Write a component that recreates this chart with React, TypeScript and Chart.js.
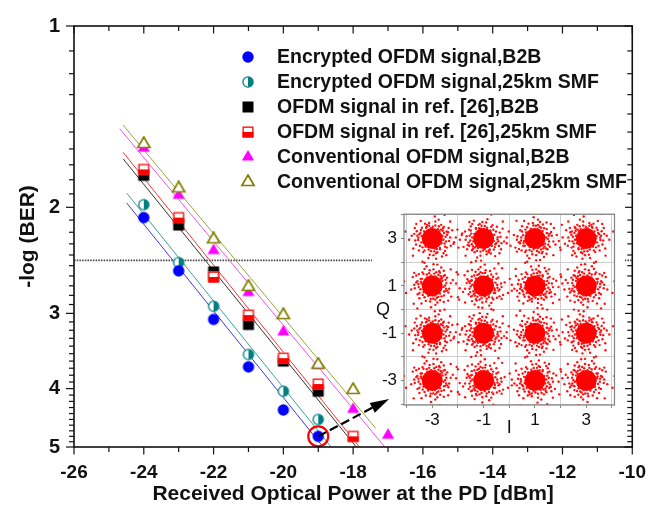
import React, { useEffect, useRef } from 'react';
import { Chart, registerables } from 'chart.js';
Chart.register(...registerables);

// ---------- axis ticks ----------
const X_TICKS = [-26, -24, -22, -20, -18, -16, -14, -12, -10];
const Y_TICKS = [1, 2, 3, 4, 5];
const X_MIN = -26;
const X_MAX = -10;
const Y_MIN = 1;
const Y_MAX = 5;
const FEC_LEVEL = 2.45;

const SERIES_NAMES = [
  'Encrypted OFDM signal,B2B',
  'Encrypted OFDM signal,25km SMF',
  'OFDM signal in ref. [26],B2B',
  'OFDM signal in ref. [26],25km SMF',
  'Conventional OFDM signal,B2B',
  'Conventional OFDM signal,25km SMF',
];

// ---------- measured points ----------
const BLUE_X = [-24, -23, -22, -21, -20, -19];
const BLUE_Y = [2.08, 2.55, 3.07, 3.68, 4.34, 4.8];
const TEAL_X = [-24, -23, -22, -21, -20, -19];
const TEAL_Y = [1.98, 2.47, 2.92, 3.51, 4.04, 4.5];
const BLACK_X = [-24, -23, -22, -21, -20, -19];
const BLACK_Y = [1.77, 2.14, 2.56, 3.13, 3.6, 4.04];
const RED_X = [-24, -23, -22, -21, -20, -19, -18];
const RED_Y = [1.73, 2.08, 2.61, 3.02, 3.56, 3.93, 4.8];
const MAGENTA_X = [-24, -23, -22, -21, -20, -19, -18, -17];
const MAGENTA_Y = [1.595, 1.91, 2.36, 2.77, 3.22, 3.66, 4.33, 4.78];
const OLIVE_X = [-24, -23, -22, -21, -20, -19, -18];
const OLIVE_Y = [1.57, 1.86, 2.26, 2.71, 3.02, 3.65, 4.02];

// ---------- fitted lines (two end points each) ----------
const BLUE_FIT_X = [-24.49, -18.86];
const BLUE_FIT_Y = [1.967, 5];
const TEAL_FIT_X = [-24.49, -18.63];
const TEAL_FIT_Y = [1.894, 5];
const BLACK_FIT_X = [-24.59, -17.91];
const BLACK_FIT_Y = [1.662, 5];
const RED_FIT_X = [-24.59, -17.82];
const RED_FIT_Y = [1.621, 5];
const MAGENTA_FIT_X = [-24.69, -17.09];
const MAGENTA_FIT_Y = [1.481, 5];
const OLIVE_FIT_X = [-24.59, -17.35];
const OLIVE_FIT_Y = [1.461, 4.657];

// ---------- annotation (data coords) ----------
const MARK_POINT = { x: -19, y: 4.8 };
const ARROW_TIP = { x: -16.97, y: 4.16 };

// ---------- inset constellation ----------
const CONST_I = [-3, -1, 1, 3];
const CONST_Q = [3, 1, -1, -3];
const INSET_TICKS = [-4, -3, -2, -1, 0, 1, 2, 3, 4];
const NOISE_OFFSETS = [
  [0.52, 0.08], [0.48, -0.21], [0.41, 0.33], [0.3, -0.45], [0.12, 0.55], [-0.05, -0.53],
  [-0.22, 0.49], [-0.38, -0.37], [-0.5, 0.18], [-0.55, -0.06], [-0.44, 0.36], [0.2, -0.58],
  [0.62, 0.27], [0.66, -0.1], [0.57, -0.38], [0.35, 0.58], [-0.12, 0.66], [-0.35, -0.57],
  [-0.63, -0.25], [-0.6, 0.31], [0.05, -0.7], [0.45, 0.49], [-0.28, 0.63], [0.7, 0.05],
  [0.78, 0.35], [0.83, -0.22], [-0.8, 0.12], [-0.74, -0.42], [0.25, 0.8], [-0.45, 0.74],
  [0.38, -0.76], [-0.15, -0.82], [0.92, 0.05], [-0.9, -0.05], [0.1, 0.93], [0.55, -0.7],
  [-0.62, 0.62], [1.02, -0.38], [-1.05, 0.3], [0.48, 1.0], [-0.3, -1.02], [0.7, 0.72],
  [-0.75, -0.72], [1.15, 0.15], [0.2, -1.1], [-0.58, 1.05], [0.5, -0.52], [-0.52, -0.5],
  [0.58, 0.16], [-0.58, 0.12], [0.15, -0.62], [-0.2, 0.58], [0.44, -0.62], [-0.68, 0.45],
  [0.4, 0.12], [0.36, -0.2], [0.28, 0.32], [0.1, -0.42], [-0.05, 0.44], [-0.26, -0.34],
  [-0.4, 0.1], [-0.42, -0.16], [0.22, 0.4], [-0.32, 0.3], [0.44, -0.05], [0.18, -0.44],
  [-0.14, -0.46], [-0.46, 0.24], [0.34, 0.38], [0.46, 0.24], [-0.24, 0.46], [0.02, 0.5],
  [-0.48, -0.3], [0.3, -0.4], [0.54, -0.12], [-0.54, 0.04], [0.08, -0.54], [0.42, 0.44],
  [-0.4, 0.46], [0.26, 0.52], [-0.12, 0.54], [0.56, 0.3], [-0.3, -0.5], [0.5, -0.34],
  [0.64, 0.45], [-0.66, -0.08], [0.12, 0.72], [-0.1, -0.68], [0.72, -0.3], [-0.7, 0.2],
];

const FONT = "'Liberation Sans', Arial, sans-serif";

function makeMarker(kind: string): HTMLCanvasElement {
  const c = document.createElement('canvas');
  c.width = 16;
  c.height = 16;
  const g = c.getContext('2d')!;
  const cx = 8, cy = 8;
  if (kind === 'circle') {
    g.fillStyle = '#0000ff';
    g.beginPath(); g.arc(cx, cy, 5.7, 0, Math.PI * 2); g.fill();
  } else if (kind === 'halfCircle') {
    g.fillStyle = '#ffffff';
    g.beginPath(); g.arc(cx, cy, 5.1, 0, Math.PI * 2); g.fill();
    g.fillStyle = '#007f7f';
    g.beginPath(); g.moveTo(cx, cy); g.arc(cx, cy, 5.1, -Math.PI / 2, Math.PI / 2); g.closePath(); g.fill();
    g.strokeStyle = '#007f7f'; g.lineWidth = 1.3;
    g.beginPath(); g.arc(cx, cy, 5.1, 0, Math.PI * 2); g.stroke();
  } else if (kind === 'square') {
    g.fillStyle = '#000000';
    g.fillRect(2.5, 2.5, 11, 11);
  } else if (kind === 'halfSquare') {
    g.fillStyle = '#ffffff'; g.fillRect(2.5, 2.5, 11, 11);
    g.fillStyle = '#ff0000'; g.fillRect(2.5, 8, 11, 5.5);
    g.strokeStyle = '#ff0000'; g.lineWidth = 1.3;
    g.strokeRect(3.15, 3.15, 9.7, 9.7);
  } else if (kind === 'triangle' || kind === 'openTriangle') {
    g.beginPath();
    g.moveTo(cx, cy - 7);
    g.lineTo(cx + 6.1, cy + 3.5);
    g.lineTo(cx - 6.1, cy + 3.5);
    g.closePath();
    if (kind === 'triangle') {
      g.fillStyle = '#ff00ff'; g.fill();
    } else {
      g.fillStyle = '#ffffff'; g.fill();
      g.strokeStyle = '#808000'; g.lineWidth = 1.7; g.stroke();
    }
  }
  return c;
}

const zip = (xs: number[], ys: number[]) => xs.map((x, i) => ({ x, y: ys[i] }));

export default function App() {
  const mainRef = useRef<HTMLCanvasElement>(null);
  const insetRef = useRef<HTMLCanvasElement>(null);

  useEffect(() => {
    const mk = {
      circle: makeMarker('circle'),
      halfCircle: makeMarker('halfCircle'),
      square: makeMarker('square'),
      halfSquare: makeMarker('halfSquare'),
      triangle: makeMarker('triangle'),
      openTriangle: makeMarker('openTriangle'),
    };
    const legendMarkers = [mk.circle, mk.halfCircle, mk.square, mk.halfSquare, mk.triangle, mk.openTriangle];

    const markerDs = (label: string, xs: number[], ys: number[], style: HTMLCanvasElement, order: number) => ({
      label, data: zip(xs, ys), pointStyle: style, pointRadius: 6, showLine: false, order,
    });
    const fitDs = (xs: number[], ys: number[], color: string) => ({
      label: 'fit', data: zip(xs, ys), showLine: true, borderColor: color, borderWidth: 1,
      pointRadius: 0, order: 5,
    });

    const mainPlugin = {
      id: 'mainDecor',
      afterDatasetsDraw(chart: any) {
        const { ctx, scales } = chart;
        const x = scales.x, y = scales.y;
        const cx = x.getPixelForValue(MARK_POINT.x), cy = y.getPixelForValue(MARK_POINT.y);
        const tx = x.getPixelForValue(ARROW_TIP.x), ty = y.getPixelForValue(ARROW_TIP.y);
        ctx.save();
        ctx.strokeStyle = '#ff0000'; ctx.lineWidth = 2.2;
        ctx.beginPath(); ctx.arc(cx, cy, 10, 0, Math.PI * 2); ctx.stroke();
        const ang = Math.atan2(ty - cy, tx - cx);
        const headLen = 19, headW = 5.5;
        const bx = tx - Math.cos(ang) * headLen, by = ty - Math.sin(ang) * headLen;
        ctx.strokeStyle = '#000'; ctx.lineWidth = 2.2; ctx.setLineDash([9, 4]);
        ctx.beginPath(); ctx.moveTo(cx, cy); ctx.lineTo(bx + Math.cos(ang) * 2, by + Math.sin(ang) * 2); ctx.stroke();
        ctx.setLineDash([]);
        ctx.fillStyle = '#000';
        ctx.beginPath();
        ctx.moveTo(tx, ty);
        ctx.lineTo(bx + Math.sin(ang) * headW, by - Math.cos(ang) * headW);
        ctx.lineTo(bx - Math.sin(ang) * headW, by + Math.cos(ang) * headW);
        ctx.closePath(); ctx.fill();
        ctx.restore();
      },
      afterDraw(chart: any) {
        const { ctx, chartArea: a, scales } = chart;
        const x = scales.x, y = scales.y;
        ctx.save();
        ctx.strokeStyle = '#111';
        ctx.lineWidth = 1.6;
        ctx.strokeRect(a.left, a.top, a.right - a.left, a.bottom - a.top);
        ctx.lineWidth = 1.2;
        const seg = (x1: number, y1: number, x2: number, y2: number) => {
          ctx.beginPath(); ctx.moveTo(x1, y1); ctx.lineTo(x2, y2); ctx.stroke();
        };
        for (let v = X_MIN; v <= X_MAX; v += 1) {
          const px = x.getPixelForValue(v);
          const len = X_TICKS.includes(v) ? 7.5 : 5;
          seg(px, a.bottom, px, a.bottom + len);
          seg(px, a.top, px, a.top + len);
        }
        for (let i = 0; i <= (Y_MAX - Y_MIN) * 10; i++) {
          const v = Y_MIN + i / 10;
          const py = y.getPixelForValue(v);
          const len = i % 10 === 0 ? 8 : 5;
          seg(a.left - len, py, a.left, py);
          seg(a.right - len, py, a.right, py);
        }
        // axis titles
        ctx.fillStyle = '#111';
        ctx.font = `bold 21px ${FONT}`;
        ctx.textAlign = 'center';
        ctx.textBaseline = 'middle';
        ctx.fillText('Received Optical Power at the PD [dBm]', (a.left + a.right) / 2, 494);
        ctx.save();
        ctx.translate(28, (a.top + a.bottom) / 2);
        ctx.rotate(-Math.PI / 2);
        ctx.fillText('-log (BER)', 0, 0);
        ctx.restore();
        // legend
        ctx.font = `bold 19.5px ${FONT}`;
        ctx.textAlign = 'left';
        SERIES_NAMES.forEach((name, i) => {
          const ry = 57 + i * 25;
          const m = legendMarkers[i];
          ctx.drawImage(m, 248 - m.width / 2, ry - m.height / 2);
          ctx.fillText(name, 277, ry + 1);
        });
        ctx.restore();
      },
    };

    const main = new Chart(mainRef.current!, {
      type: 'scatter',
      data: {
        datasets: [
          markerDs(SERIES_NAMES[0], BLUE_X, BLUE_Y, mk.circle, 0),
          markerDs(SERIES_NAMES[1], TEAL_X, TEAL_Y, mk.halfCircle, 0),
          markerDs(SERIES_NAMES[3], RED_X, RED_Y, mk.halfSquare, 0),
          markerDs(SERIES_NAMES[5], OLIVE_X, OLIVE_Y, mk.openTriangle, 0),
          markerDs(SERIES_NAMES[2], BLACK_X, BLACK_Y, mk.square, 1),
          markerDs(SERIES_NAMES[4], MAGENTA_X, MAGENTA_Y, mk.triangle, 1),
          fitDs(BLUE_FIT_X, BLUE_FIT_Y, '#3a3ad8'),
          fitDs(TEAL_FIT_X, TEAL_FIT_Y, '#3aa0a0'),
          fitDs(BLACK_FIT_X, BLACK_FIT_Y, '#333333'),
          fitDs(RED_FIT_X, RED_FIT_Y, '#ff3333'),
          fitDs(MAGENTA_FIT_X, MAGENTA_FIT_Y, '#ee55ee'),
          fitDs(OLIVE_FIT_X, OLIVE_FIT_Y, '#a0a040'),
          {
            label: 'FEC', data: zip([X_MIN, X_MAX], [FEC_LEVEL, FEC_LEVEL]), showLine: true,
            borderColor: '#444', borderWidth: 1.6, borderDash: [1.5, 1.2], pointRadius: 0, order: 6,
          },
        ] as any,
      },
      options: {
        responsive: false,
        animation: false,
        devicePixelRatio: 1,
        layout: { padding: { left: 0, right: 17, top: 17, bottom: 0 } },
        plugins: { legend: { display: false }, tooltip: { enabled: false } },
        scales: {
          x: {
            type: 'linear', min: X_MIN, max: X_MAX,
            afterFit: (s: any) => { s.height = 59; },
            afterBuildTicks: (s: any) => { s.ticks = X_TICKS.map((v) => ({ value: v })); },
            grid: { display: false, drawTicks: false },
            border: { display: false },
            ticks: { color: '#111', padding: 14, font: { family: FONT, size: 19, weight: 'bold' }, maxRotation: 0, autoSkip: false },
          },
          y: {
            type: 'logarithmic', min: Y_MIN, max: Y_MAX, reverse: true,
            afterFit: (s: any) => { s.width = 74; },
            afterBuildTicks: (s: any) => { s.ticks = Y_TICKS.map((v) => ({ value: v })); },
            grid: { display: false, drawTicks: false },
            border: { display: false },
            ticks: {
              color: '#111', padding: 14, autoSkip: false,
              font: { family: FONT, size: 20, weight: 'bold' },
              callback: (v: any) => String(v),
            },
          },
        },
      } as any,
      plugins: [mainPlugin],
    });

    // ----- inset -----
    const centers: { x: number; y: number }[] = [];
    CONST_Q.forEach((q) => CONST_I.forEach((i) => centers.push({ x: i, y: q })));
    const noise: { x: number; y: number }[] = [];
    centers.forEach((c, k) => {
      const s = (k * 3) % 8;
      NOISE_OFFSETS.forEach(([dx, dy]) => {
        let a = dx, b = dy;
        if (s >= 4) { a = dy; b = dx; }
        if (s & 1) a = -a;
        if (s & 2) b = -b;
        noise.push({ x: c.x + a, y: c.y + b });
      });
    });

    const insetPlugin = {
      id: 'insetDecor',
      beforeDraw(chart: any) {
        const { ctx } = chart;
        ctx.save();
        ctx.fillStyle = '#ffffff';
        ctx.fillRect(0, 0, chart.width, 190);
        ctx.restore();
      },
      afterDraw(chart: any) {
        const { ctx, chartArea: a } = chart;
        ctx.save();
        ctx.strokeStyle = '#808080'; ctx.lineWidth = 1.2;
        ctx.strokeRect(a.left, a.top, a.right - a.left, a.bottom - a.top);
        ctx.fillStyle = '#111';
        ctx.font = `18px ${FONT}`;
        ctx.textAlign = 'center'; ctx.textBaseline = 'middle';
        ctx.fillText('Q', a.left - 21, (a.top + a.bottom) / 2);
        ctx.fillText('I', (a.left + a.right) / 2, a.bottom + 23);
        ctx.restore();
      },
    };

    const gridColor = (c: any) => {
      const v = c.tick ? c.tick.value : 1;
      return Math.abs(v) % 2 === 0 ? '#cdcdcd' : '#ebebeb';
    };
    const oddLabel = (v: any) => (Math.abs(v) % 2 === 1 ? String(v) : '');

    const inset = new Chart(insetRef.current!, {
      type: 'scatter',
      data: {
        datasets: [
          { label: 'noise', data: noise, pointRadius: 1.2, pointBorderWidth: 0, backgroundColor: '#ff1010', borderColor: '#ff1010' },
          { label: 'core', data: centers, pointRadius: 10.5, pointBorderWidth: 0, backgroundColor: '#ff0000', borderColor: '#ff0000' },
        ] as any,
      },
      options: {
        responsive: false,
        animation: false,
        devicePixelRatio: 1,
        layout: { padding: { left: 0, right: 8, top: 9, bottom: 0 } },
        plugins: { legend: { display: false }, tooltip: { enabled: false } },
        scales: {
          x: {
            type: 'linear', min: -4.1, max: 4.1,
            afterFit: (s: any) => { s.height = 40; },
            afterBuildTicks: (s: any) => { s.ticks = INSET_TICKS.map((v) => ({ value: v })); },
            grid: { color: gridColor, tickColor: '#888', tickLength: 3 },
            border: { display: false },
            ticks: { color: '#111', padding: 2, autoSkip: false, maxRotation: 0, font: { family: FONT, size: 17 }, callback: oddLabel },
          },
          y: {
            type: 'linear', min: -4.03, max: 4.03,
            afterFit: (s: any) => { s.width = 32; },
            afterBuildTicks: (s: any) => { s.ticks = INSET_TICKS.map((v) => ({ value: v })); },
            grid: { color: gridColor, tickColor: '#888', tickLength: 3 },
            border: { display: false },
            ticks: { color: '#111', padding: 4, autoSkip: false, font: { family: FONT, size: 17 }, callback: oddLabel },
          },
        },
      } as any,
      plugins: [insetPlugin],
    });

    return () => {
      main.destroy();
      inset.destroy();
    };
  }, []);

  return (
    <div style={{ position: 'absolute', left: 0, top: 0, width: 660, height: 506, background: '#ffffff' }}>
      <canvas ref={mainRef} width={660} height={506} style={{ position: 'absolute', left: 0, top: 0 }} />
      <canvas ref={insetRef} width={253} height={245} style={{ position: 'absolute', left: 372, top: 200 }} />
    </div>
  );
}
